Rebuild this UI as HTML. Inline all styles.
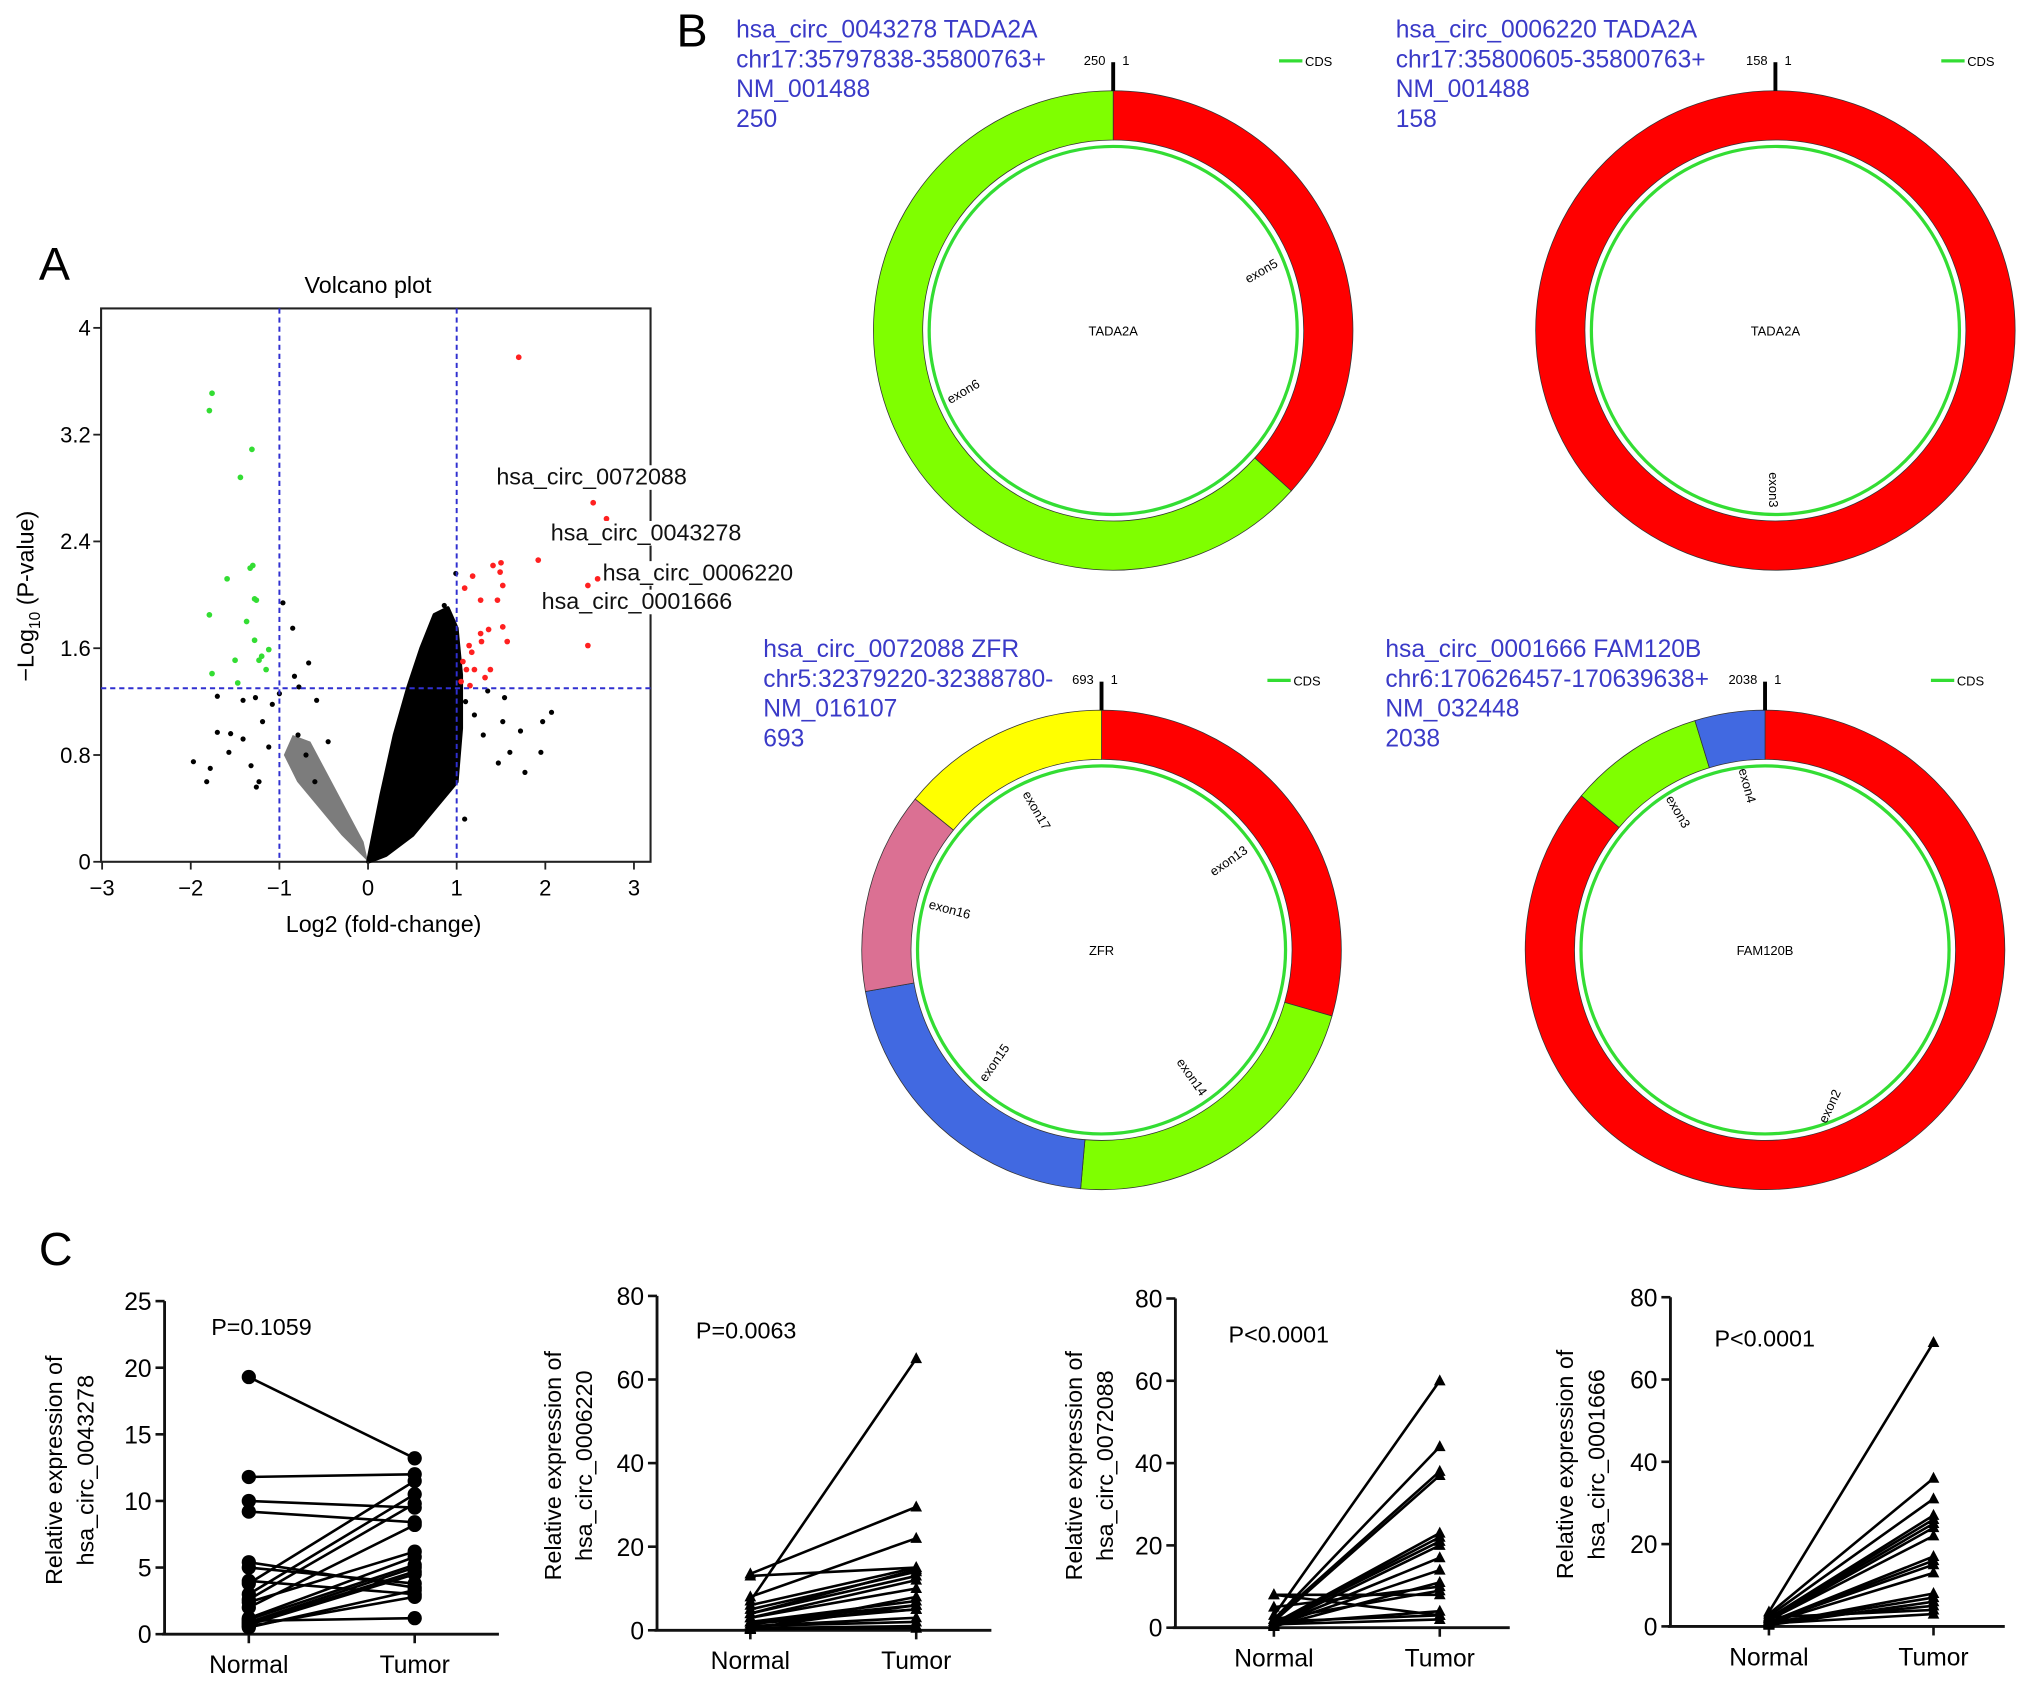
<!DOCTYPE html>
<html><head><meta charset="utf-8"><style>
html,body{margin:0;padding:0;background:#fff;}
svg{display:block;font-family:"Liberation Sans",Arial,sans-serif;}
</style></head><body>
<svg id="fig" width="2032" height="1686" viewBox="0 0 1568 1301" preserveAspectRatio="none" xmlns="http://www.w3.org/2000/svg">
<rect width="1568" height="1301" fill="#fff"/>
<text x="30" y="216" font-size="36">A</text>
<text x="522" y="36" font-size="36">B</text>
<text x="30" y="976" font-size="36">C</text>
<g id="gA"></g>
<g id="gB"></g>
<g id="gC"></g>
</svg>
<script>
// ---------- Volcano data ----------
const greenX=[-1.76,-1.79,-1.31,-1.44,-1.33,-1.30,-1.59,-1.26,-1.28,-1.79,-1.37,-1.28,-1.12,-1.20,-1.23,-1.50,-1.76,-1.15,-1.47];
const greenY=[3.51,3.38,3.09,2.88,2.20,2.22,2.12,1.96,1.97,1.85,1.80,1.66,1.59,1.54,1.51,1.51,1.41,1.44,1.34];
const redX=[1.70,2.54,2.69,1.92,1.41,1.50,1.49,1.18,2.59,2.48,1.09,1.52,1.27,1.46,2.48,1.52,1.36,1.27,1.57,1.14,1.28,1.17,1.07,1.11,1.38,1.32,1.20,1.05,1.15];
const redY=[3.78,2.69,2.57,2.26,2.22,2.24,2.17,2.14,2.12,2.07,2.05,2.07,1.96,1.96,1.62,1.76,1.74,1.71,1.65,1.62,1.65,1.57,1.50,1.44,1.44,1.38,1.44,1.35,1.32];
const blackX=[-1.97,-1.82,-1.78,-1.70,-1.57,-1.41,-1.55,-1.70,-1.41,-1.27,-1.32,-1.26,-1.23,-1.19,-1.12,-0.96,-0.85,-1.00,-1.08,-0.79,-0.58,-0.67,-0.83,-0.78,2.07,1.97,1.95,1.77,1.72,1.60,1.47,1.52,1.54,1.35,1.09,0.99,0.72,0.86,-0.60,-0.70,-0.45,1.20,1.30,1.10];
const blackY=[0.75,0.60,0.70,0.97,0.82,0.92,0.96,1.24,1.21,1.23,0.72,0.56,0.60,1.05,0.86,1.94,1.75,1.26,1.18,0.95,1.21,1.49,1.39,1.31,1.12,1.05,0.82,0.67,0.98,0.82,0.74,1.05,1.23,1.28,0.32,2.16,1.78,1.92,0.60,0.80,0.90,1.10,0.95,1.20];
const cloudRightX=[0,0.15,0.3,0.45,0.6,0.75,0.9,1.0,1.05,1.05,1.0,0.75,0.5,0.2];
const cloudRightY=[0,0.5,0.95,1.3,1.6,1.85,1.9,1.75,1.4,1.0,0.6,0.4,0.2,0.05];
const cloudLeftX=[0,-0.3,-0.55,-0.8,-0.95,-0.85,-0.65,-0.45,-0.25,-0.05];
const cloudLeftY=[0,0.2,0.4,0.6,0.8,0.95,0.9,0.65,0.4,0.15];
const volXTicks=[-3,-2,-1,0,1,2,3];
const volYTicks=[0,0.8,1.6,2.4,3.2,4];
const volYTickLabels=["0","0.8","1.6","2.4","3.2","4"];

// ---------- Paired charts data ----------
const c1Normal=[19.3,11.8,10.0,9.2,5.4,5.0,4.0,3.8,3.0,2.6,2.4,1.2,1.0,0.9,0.8,0.7,0.6,0.5,1.1,2.0];
const c1Tumor=[13.2,12.0,9.5,8.4,3.5,3.8,3.0,11.5,10.5,9.8,6.2,5.8,1.2,5.0,4.7,4.5,2.8,3.3,5.2,8.2];
const c2Normal=[13.5,13,8,7,6,5,4,3,3,2,2,1.5,1,1,0.5,0.5,0.3,0.2,4,2];
const c2Tumor=[29.5,15,22,65,15,14,13,12,10,7,6,5,3,2,6,1,0.5,8,14.5,5];
const c3Normal=[8,8,5,3,2,2,1.5,1,1,1,0.5,0.5,0.5,0.3,2,1,1.5,0.8];
const c3Tumor=[8,3,10,60,44,38,37,23,22,21,20,17,14,11,9,4,3,2];
const c4Normal=[3.5,3,2.5,2,2,1.5,1.5,1,1,1,0.8,0.5,0.5,0.3,1.2,2.2,0.7,1.8];
const c4Tumor=[69,36,31,27,26,24,22,17,16,15,13,8,7,6,5,4,3,25];
const c1Ticks=[0,5,10,15,20,25];
const c24Ticks=[0,20,40,60,80];
const groupLabels=["Normal","Tumor"];

// ---------- Circ data ----------
const circ1Starts=[0,132]; const circ1Ends=[132,360]; const circ1Colors=["#ff0000","#7fff00"];
const circ2Starts=[0]; const circ2Ends=[360]; const circ2Colors=["#ff0000"];
const circ3Starts=[0,106,185,260,309]; const circ3Ends=[106,185,260,309,360]; const circ3Colors=["#ff0000","#7fff00","#4169e1","#db7093","#ffff00"];
const circ4Starts=[0,310,343]; const circ4Ends=[310,343,360]; const circ4Colors=["#ff0000","#7fff00","#4169e1"];

const NS="http://www.w3.org/2000/svg";
function mk(tag,parent,attrs,text){const e=document.createElementNS(NS,tag);for(const k in attrs)e.setAttribute(k,attrs[k]);if(text!==undefined)e.textContent=text;parent.appendChild(e);return e;}

// ===== Panel A =====
(function(){
const g=document.getElementById('gA');
const X=v=>284+v*68.4, Y=v=>665-v*103;
let t=mk('text',g,{x:284,y:226,'font-size':18,'text-anchor':'middle'},'Volcano plot');


let b=mk('rect',g,{x:78,y:238,width:424,height:427,fill:'none',stroke:'#222','stroke-width':1.6});


let pl=cloudLeftX.map((x,i)=>X(x)+','+Y(cloudLeftY[i])).join(' ');
let c=mk('polygon',g,{points:pl,fill:'#111','fill-opacity':0.55});


let pr=cloudRightX.map((x,i)=>X(x)+','+Y(cloudRightY[i])).join(' ');
c=mk('polygon',g,{points:pr,fill:'#000','stroke':'#000','stroke-width':3,'stroke-linejoin':'round'});


blackX.forEach((x,i)=>{const p=mk('circle',g,{cx:X(x),cy:Y(blackY[i]),r:2,fill:'#000'});

});
greenX.forEach((x,i)=>{const p=mk('circle',g,{cx:X(x),cy:Y(greenY[i]),r:2.2,fill:'#33dd33'});

});
redX.forEach((x,i)=>{const p=mk('circle',g,{cx:X(x),cy:Y(redY[i]),r:2.2,fill:'#ff2020'});

});
[[X(-1),238,X(-1),665],[X(1),238,X(1),665],[78,Y(1.3),502,Y(1.3)]].forEach(a=>{
const l=mk('line',g,{x1:a[0],y1:a[1],x2:a[2],y2:a[3],stroke:'#3030d0','stroke-width':1.5,'stroke-dasharray':'4,3'});

});
volXTicks.forEach(v=>{mk('line',g,{x1:X(v),y1:665,x2:X(v),y2:671,stroke:'#222','stroke-width':1.4});
const tx=mk('text',g,{x:X(v),y:691,'font-size':17,'text-anchor':'middle'},v<0?'\u2212'+(-v):String(v));

});
volYTicks.forEach((v,i)=>{mk('line',g,{x1:72,y1:Y(v),x2:78,y2:Y(v),stroke:'#222','stroke-width':1.4});
const tx=mk('text',g,{x:70,y:Y(v)+6,'font-size':17,'text-anchor':'end'},volYTickLabels[i]);

});
t=mk('text',g,{x:296,y:719,'font-size':18,'text-anchor':'middle'},'Log2 (fold-change)');


t=mk('text',g,{x:0,y:0,'font-size':18,'text-anchor':'middle',transform:'translate(26,460) rotate(-90)'});


t.innerHTML='\u2212Log<tspan font-size="12" dy="5">10</tspan><tspan dy="-5"> (P-value)</tspan>';
const labs=[['hsa_circ_0072088',383,374],['hsa_circ_0043278',425,417],['hsa_circ_0006220',465,448],['hsa_circ_0001666',418,470]];
labs.forEach(a=>{mk('rect',g,{x:a[1],y:a[2]-15,width:158,height:19,fill:'#fff'});
const tx=mk('text',g,{x:a[1],y:a[2],'font-size':18,fill:'#111'},a[0]);

});
})();

// ===== Panel B =====
(function(){
const g=document.getElementById('gB');
function pt(cx,cy,r,a){const rad=a*Math.PI/180;return [cx+r*Math.sin(rad),cy-r*Math.cos(rad)];}
function sector(cx,cy,r1,r2,a1,a2){
 const large=(a2-a1)>180?1:0;const p1=pt(cx,cy,r2,a1),p2=pt(cx,cy,r2,a2),p3=pt(cx,cy,r1,a2),p4=pt(cx,cy,r1,a1);
 return `M${p1}A${r2},${r2} 0 ${large} 1 ${p2}L${p3}A${r1},${r1} 0 ${large} 0 ${p4}Z`;}
const defs=[
 {cx:859,cy:255,tx:568,lines:['hsa_circ_0043278 TADA2A','chr17:35797838-35800763+','NM_001488','250'],len:'250',gene:'TADA2A',s:circ1Starts,e:circ1Ends,c:circ1Colors,ex:[['exon5',975,212,-30],['exon6',745,305,-30]],cds:[987,47]},
 {cx:1370,cy:255,tx:1077,lines:['hsa_circ_0006220 TADA2A','chr17:35800605-35800763+','NM_001488','158'],len:'158',gene:'TADA2A',s:circ2Starts,e:circ2Ends,c:circ2Colors,ex:[['exon3',1365,378,90]],cds:[1498,47]},
 {cx:850,cy:733,tx:589,lines:['hsa_circ_0072088 ZFR','chr5:32379220-32388780-','NM_016107','693'],len:'693',gene:'ZFR',s:circ3Starts,e:circ3Ends,c:circ3Colors,ex:[['exon13',950,667,-35],['exon14',917,833,55],['exon15',770,822,-55],['exon16',732,705,15],['exon17',797,627,60]],cds:[978,525]},
 {cx:1362,cy:733,tx:1069,lines:['hsa_circ_0001666 FAM120B','chr6:170626457-170639638+','NM_032448','2038'],len:'2038',gene:'FAM120B',s:circ4Starts,e:circ4Ends,c:circ4Colors,ex:[['exon2',1415,855,-65],['exon3',1292,628,60],['exon4',1345,607,75]],cds:[1490,525]}
];
defs.forEach((d,k)=>{
 const gg=mk('g',g,{});
 
 
 d.lines.forEach((ln,i)=>{const t=mk('text',gg,{x:d.tx,y:29+i*23+(d.cy-255),'font-size':19,fill:'#3a3ac8'},ln);
 
 });
 d.s.forEach((a,i)=>{let p;
  if(d.e[i]-a>=359.9){
   mk('circle',gg,{cx:d.cx,cy:d.cy,r:166,fill:'none',stroke:'#333','stroke-width':38.6});
   p=mk('circle',gg,{cx:d.cx,cy:d.cy,r:166,fill:'none',stroke:d.c[i],'stroke-width':37.4});
  } else {
   p=mk('path',gg,{d:sector(d.cx,d.cy,147,185,a,d.e[i]),fill:d.c[i],stroke:'#333','stroke-width':0.6});
  }
  
  });
 const cc=mk('circle',gg,{cx:d.cx,cy:d.cy,r:142,fill:'none',stroke:'#33dd33','stroke-width':2.5});
 
 
 mk('line',gg,{x1:d.cx,y1:d.cy-185,x2:d.cx,y2:d.cy-207,stroke:'#000','stroke-width':3});
 mk('text',gg,{x:d.cx-6,y:d.cy-205,'font-size':10,'text-anchor':'end'},d.len);
 mk('text',gg,{x:d.cx+7,y:d.cy-205,'font-size':10},'1');
 mk('line',gg,{x1:d.cds[0],y1:d.cds[1],x2:d.cds[0]+18,y2:d.cds[1],stroke:'#33dd33','stroke-width':2.5});
 const lg=mk('text',gg,{x:d.cds[0]+20,y:d.cds[1]+4,'font-size':10},'CDS');
 
 
 const gt=mk('text',gg,{x:d.cx,y:d.cy+4,'font-size':10,'text-anchor':'middle'},d.gene);
 
 
 d.ex.forEach(e=>{const t=mk('text',gg,{x:0,y:0,'font-size':10,'text-anchor':'middle',transform:`translate(${e[1]},${e[2]}) rotate(${e[3]})`},e[0]);
 
 });
});
})();

// ===== Panel C =====
(function(){
const g=document.getElementById('gC');
const charts=[
 {ax:127,top:1004,bot:1261,max:25,ticks:c1Ticks,N:c1Normal,T:c1Tumor,nx:192,tx:320,title:'hsa_circ_0043278',tt:[48,72],p:'P=0.1059',px:163,py:1030,mark:'circle'},
 {ax:507,top:1000,bot:1258,max:80,ticks:c24Ticks,N:c2Normal,T:c2Tumor,nx:579,tx:707,title:'hsa_circ_0006220',tt:[433,457],p:'P=0.0063',px:537,py:1033,mark:'tri'},
 {ax:907,top:1002,bot:1256,max:80,ticks:c24Ticks,N:c3Normal,T:c3Tumor,nx:983,tx:1111,title:'hsa_circ_0072088',tt:[835,859],p:'P<0.0001',px:948,py:1036,mark:'tri'},
 {ax:1289,top:1001,bot:1255,max:80,ticks:c24Ticks,N:c4Normal,T:c4Tumor,nx:1365,tx:1492,title:'hsa_circ_0001666',tt:[1214,1238],p:'P<0.0001',px:1323,py:1039,mark:'tri'}
];
charts.forEach((c,k)=>{
 const gg=mk('g',g,{});
 
 
 const Y=v=>c.bot-(v/c.max)*(c.bot-c.top);
 mk('line',gg,{x1:c.ax,y1:c.top,x2:c.ax,y2:c.bot,stroke:'#111','stroke-width':2.2});
 mk('line',gg,{x1:c.ax-2,y1:c.bot,x2:c.ax+258,y2:c.bot,stroke:'#111','stroke-width':2.2});
 c.ticks.forEach(v=>{mk('line',gg,{x1:c.ax-7,y1:Y(v),x2:c.ax,y2:Y(v),stroke:'#111','stroke-width':2});
 const t=mk('text',gg,{x:c.ax-10,y:Y(v)+7,'font-size':19,'text-anchor':'end'},String(v));
 
 });
 [c.nx,c.tx].forEach((x,i)=>{mk('line',gg,{x1:x,y1:c.bot,x2:x,y2:c.bot+7,stroke:'#111','stroke-width':2});
 const t=mk('text',gg,{x:x,y:c.bot+30,'font-size':19,'text-anchor':'middle'},groupLabels[i]);
 
 });
 const t1=mk('text',gg,{x:0,y:0,'font-size':18,'text-anchor':'middle',transform:`translate(${c.tt[0]},${(c.top+c.bot)/2+2}) rotate(-90)`},'Relative expression of');
 
 
 const t2=mk('text',gg,{x:0,y:0,'font-size':18,'text-anchor':'middle',transform:`translate(${c.tt[1]},${(c.top+c.bot)/2+2}) rotate(-90)`},c.title);
 
 
 const pt=mk('text',gg,{x:c.px,y:c.py,'font-size':18},c.p);
 
 
 c.N.forEach((n,i)=>{
  const l=mk('line',gg,{x1:c.nx,y1:Y(n),x2:c.tx,y2:Y(c.T[i]),stroke:'#000','stroke-width':2});
  
  
  [[c.nx,n],[c.tx,c.T[i]]].forEach(q=>{
   const x=q[0],y=Y(q[1]);let m;
   if(c.mark==='circle'){m=mk('circle',gg,{cx:x,cy:y,r:5.5,fill:'#000'});}
   else{m=mk('polygon',gg,{points:`${x},${y-5} ${x-4.5},${y+3.5} ${x+4.5},${y+3.5}`,fill:'#000'});}
   
   
  });
 });
});
})();
</script>
</body></html>
